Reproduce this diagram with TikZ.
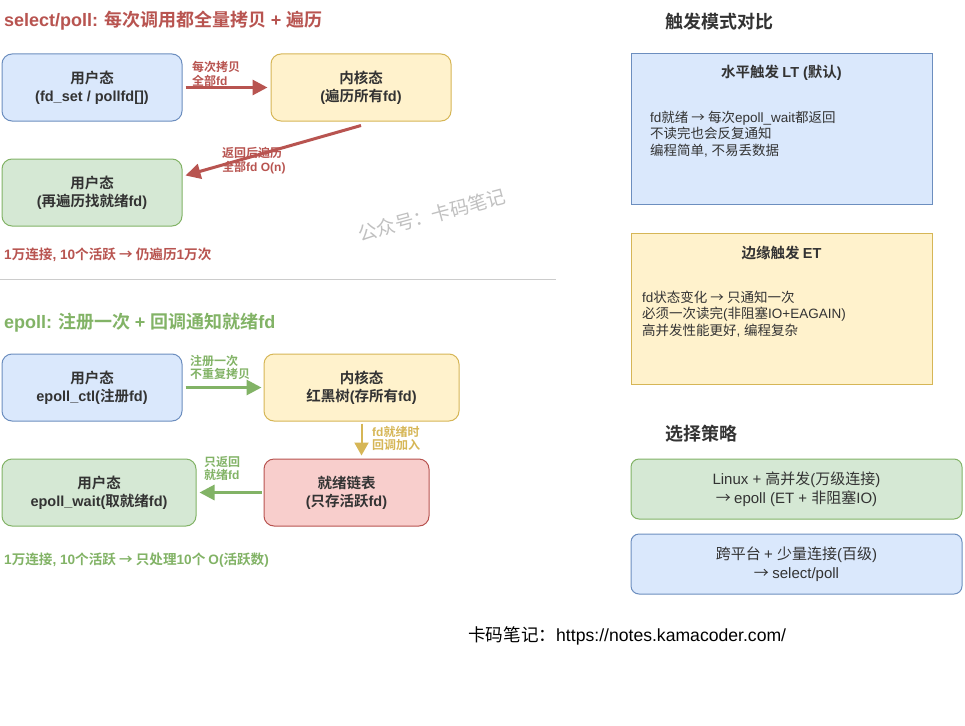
\documentclass[tikz,border=0pt]{standalone}
\usepackage{fontspec}
\usepackage{xcolor}
\usepackage{tikz}
\setmainfont{Liberation Sans}
\newfontfamily\cjk{Noto Sans CJK SC}[BoldFont={Noto Sans CJK SC Bold}]
\newcommand\latn{\fontfamily{\familydefault}\selectfont}
% switch to the CJK family for ideographs and back for Latin
\newXeTeXintercharclass\cjkcls
\newcount\cpt
\newcommand\markcjk[2]{\cpt=#1\relax
  \loop\ifnum\cpt<#2\relax\XeTeXcharclass\cpt=\cjkcls\advance\cpt by 1\repeat}
\markcjk{"3000}{"3040}
\markcjk{"4E00}{"A000}
\markcjk{"FF00}{"FF60}
\XeTeXcharclass"2192=\cjkcls
\XeTeXinterchartokenstate=1
\XeTeXinterchartoks 0 \cjkcls = {\cjk}
\XeTeXinterchartoks 4095 \cjkcls = {\cjk}
\XeTeXinterchartoks \cjkcls 0 = {\latn}
\XeTeXinterchartoks 4095 0 = {\latn}
\definecolor{blueFill}{HTML}{DAE8FC}
\definecolor{blueLine}{HTML}{6C8EBF}
\definecolor{yellowFill}{HTML}{FFF2CC}
\definecolor{yellowLine}{HTML}{D6B656}
\definecolor{greenFill}{HTML}{D5E8D4}
\definecolor{greenLine}{HTML}{82B366}
\definecolor{redFill}{HTML}{F8CECC}
\definecolor{redLine}{HTML}{B85450}
\definecolor{textDark}{HTML}{333333}
\definecolor{sepGray}{HTML}{CCCCCC}
\definecolor{wmGray}{HTML}{C0C0C0}
\usetikzlibrary{calc,positioning,arrows.meta}

\begin{document}
\begin{tikzpicture}[x=1pt, y=-1pt,
  box/.style={draw, line width=1pt, text=textDark, align=center, inner sep=0pt,
    font=\fontsize{14.5pt}{18pt}\selectfont\bfseries},
  rbox/.style={box, rounded corners=10pt, minimum height=67pt},
  bluebox/.style={rbox, fill=blueFill, draw=blueLine},
  yellowbox/.style={rbox, fill=yellowFill, draw=yellowLine},
  greenbox/.style={rbox, fill=greenFill, draw=greenLine},
  redbox/.style={rbox, fill=redFill, draw=redLine},
  title/.style={font=\fontsize{18pt}{21pt}\selectfont\bfseries, inner sep=0pt, anchor=west},
  lbl/.style={font=\fontsize{12pt}{13.5pt}\selectfont\bfseries, align=left, inner sep=0pt, anchor=west},
  note/.style={font=\fontsize{13.6pt}{16pt}\selectfont\bfseries, inner sep=0pt, anchor=west},
  body/.style={font=\fontsize{13.5pt}{16.5pt}\selectfont, align=left, text=textDark, inner sep=0pt, anchor=west},
  redarrow/.style={draw=redLine, line width=3pt, -{Triangle[length=15pt,width=15pt]}},
  greenarrow/.style={draw=greenLine, line width=3pt, -{Triangle[length=15pt,width=15pt]}},
  yellowarrow/.style={draw=yellowLine, line width=2pt, -{Triangle[length=13pt,width=14pt]}},
]
\useasboundingbox[fill=white] (0,0) rectangle (965,725);
% select/poll
\node[title, text=redLine] (selTitle) at (4,21) {select/poll: 每次调用都全量拷贝 + 遍历};
\node[bluebox, minimum width=180pt] (selUser) at (92,87.5) {用户态\\(fd\_set / pollfd[])};
\node[yellowbox, minimum width=180pt] (selKernel) at (361,87.5) {内核态\\(遍历所有fd)};
\node[greenbox, minimum width=180pt] (selScan) at (92,192.5) {用户态\\(再遍历找就绪fd)};
\draw[redarrow] ([xshift=3pt]selUser.east) -- ([xshift=-3pt]selKernel.west);
\draw[redarrow] ([yshift=-4pt]selKernel.south) -- ([shift={(3pt,17pt)}]selScan.east);
\node[lbl, text=redLine] (copyLbl) at (192,74) {每次拷贝\\全部fd};
\node[lbl, text=redLine] (backLbl) at (222,160.5) {返回后遍历\\全部fd O(n)};
\node[note, text=redLine] (selNote) at (4,255) {1万连接, 10个活跃 → 仍遍历1万次};
\draw[sepGray, line width=1pt] (0,279) -- (556,279);
% epoll
\node[title, text=greenLine] (epTitle) at (4,323) {epoll: 注册一次 + 回调通知就绪fd};
\node[bluebox, minimum width=180pt] (epCtl) at (92,387.5) {用户态\\epoll\_ctl(注册fd)};
\node[yellowbox, minimum width=195pt] (epTree) at (361.5,387.5) {内核态\\红黑树(存所有fd)};
\node[redbox, minimum width=165pt] (epReady) at (346.5,492.5) {就绪链表\\(只存活跃fd)};
\node[greenbox, minimum width=194pt] (epWait) at (99,492.5) {用户态\\epoll\_wait(取就绪fd)};
\draw[greenarrow] ([xshift=3pt]epCtl.east) -- ([xshift=-2pt]epTree.west);
\draw[yellowarrow] ([yshift=-2pt]epTree.south) -- ([yshift=3pt]epTree.south |- epReady.north);
\draw[greenarrow] ([xshift=-2pt]epReady.west) -- ([xshift=3pt]epWait.east);
\node[lbl, text=greenLine] (regLbl) at (190,367.5) {注册一次\\不重复拷贝};
\node[lbl, text=yellowLine] (cbLbl) at (372,438.5) {fd就绪时\\回调加入};
\node[lbl, text=greenLine] (retLbl) at (204,468.5) {只返回\\就绪fd};
\node[note, text=greenLine] (epNote) at (4,560) {1万连接, 10个活跃 → 只处理10个 O(活跃数)};
% trigger modes
\node[title, text=textDark] (trigTitle) at (665,22) {触发模式对比};
\node[box, fill=blueFill, draw=blueLine, minimum width=301pt, minimum height=151pt] (ltBox) at (781.5,129) {};
\node[box, fill=yellowFill, draw=yellowLine, minimum width=301pt, minimum height=151pt] (etBox) at (781.5,308.5) {};
\node[font=\fontsize{14.5pt}{18pt}\selectfont\bfseries, text=textDark, inner sep=0pt] (ltHead) at (781.5,73) {水平触发 LT (默认)};
\node[body] (ltBody) at (650,134) {fd就绪 → 每次epoll\_wait都返回\\不读完也会反复通知\\编程简单, 不易丢数据};
\node[font=\fontsize{14.5pt}{18pt}\selectfont\bfseries, text=textDark, inner sep=0pt] (etHead) at (781.5,253) {边缘触发 ET};
\node[body] (etBody) at (642,314) {fd状态变化 → 只通知一次\\必须一次读完(非阻塞IO+EAGAIN)\\高并发性能更好, 编程复杂};
% strategy
\node[title, text=textDark] (pickTitle) at (665,434) {选择策略};
\node[box, rounded corners=8pt, fill=greenFill, draw=greenLine, minimum width=331pt, minimum height=60pt,
  font=\fontsize{15pt}{19pt}\selectfont] (linuxBox) at (796.5,489) {Linux + 高并发(万级连接)\\→ epoll (ET + 非阻塞IO)};
\node[box, rounded corners=8pt, fill=blueFill, draw=blueLine, minimum width=331pt, minimum height=60pt,
  font=\fontsize{15pt}{19pt}\selectfont] (crossBox) at (796.5,564) {跨平台 + 少量连接(百级)\\→ select/poll};
% footer and watermark
\node[font=\fontsize{17.6pt}{20pt}\selectfont, inner sep=0pt, anchor=west] (footer) at (468,636) {卡码笔记：https://notes.kamacoder.com/};
\node[font=\fontsize{19pt}{22pt}\selectfont, text=wmGray, rotate=15, inner sep=0pt] (wmark) at (432,215) {公众号：卡码笔记};
\end{tikzpicture}
\end{document}
